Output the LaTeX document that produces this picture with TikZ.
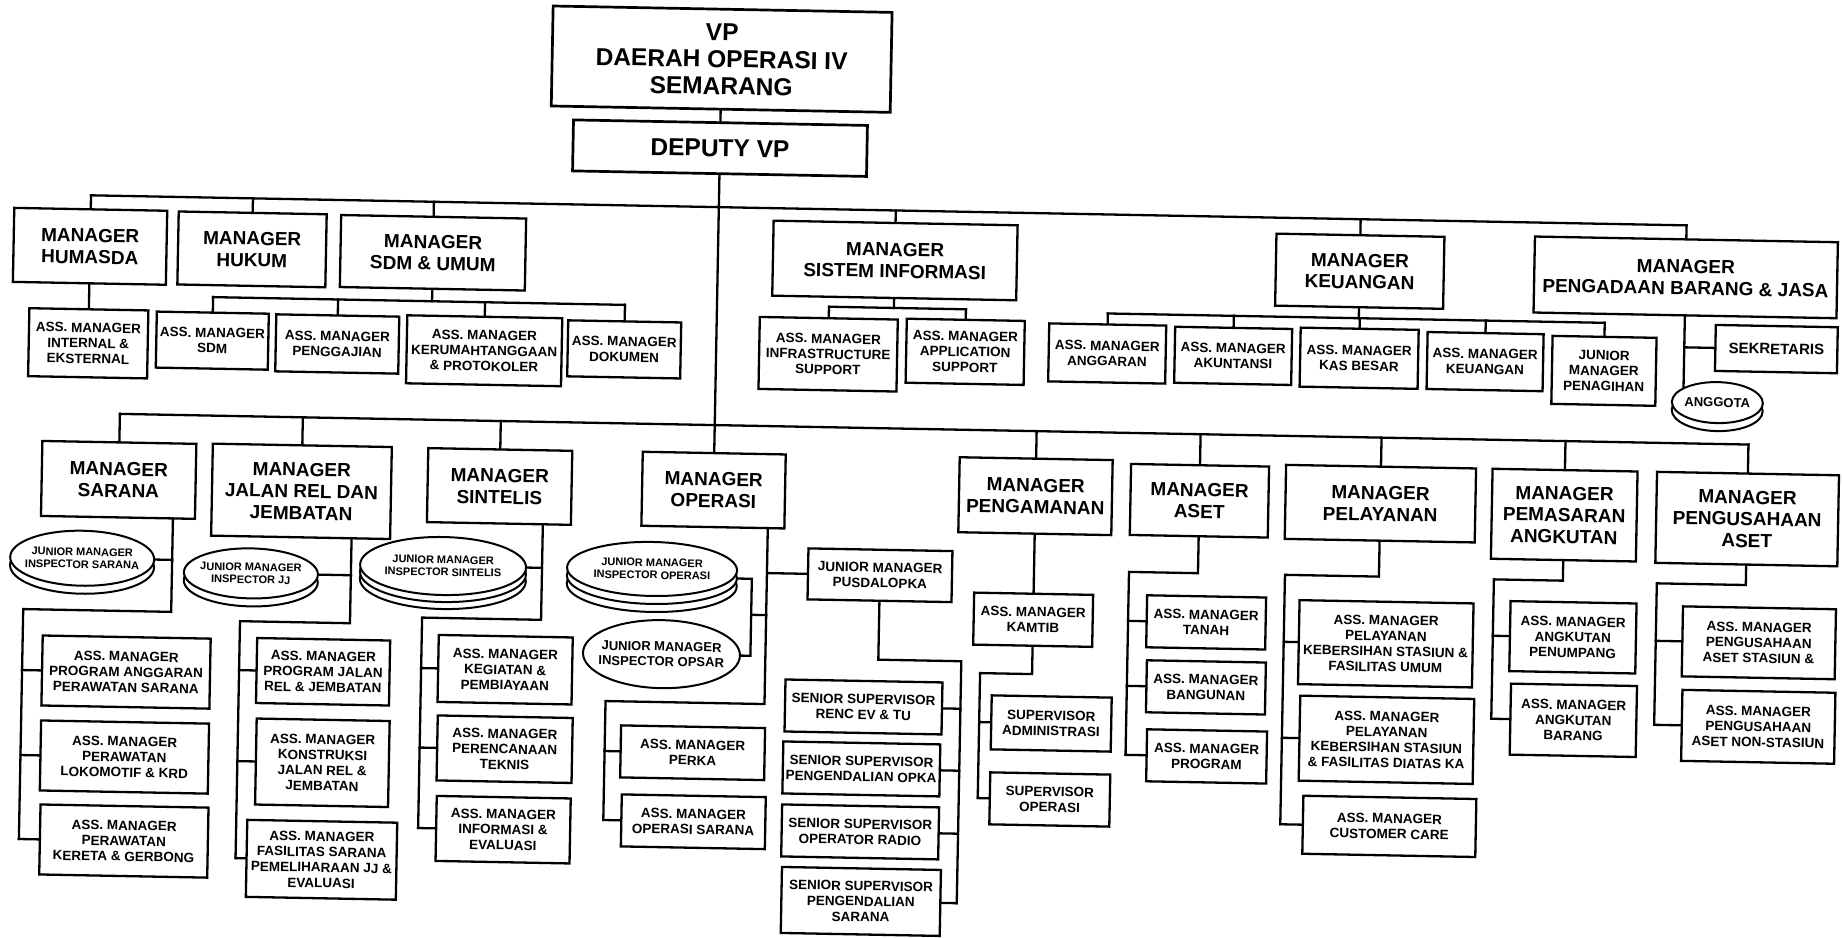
\documentclass[tikz,border=0pt]{standalone}
\usepackage{fontspec}
\setmainfont{Liberation Sans}
\usetikzlibrary{shapes.geometric}
\begin{document}
\begin{tikzpicture}[x=1pt,y=-1pt,
  wh/.style 2 args={minimum width=#1, minimum height=#2},
  abox/.style={draw, line width=2.3pt, fill=white, inner sep=0pt, align=center, font=\bfseries\fontsize{13.5}{15.5}\selectfont},
  mbox/.style={abox, font=\bfseries\fontsize{19}{21.7}\selectfont},
  topbox/.style={abox, line width=2.7pt, font=\bfseries\fontsize{24.5}{27}\selectfont},
  sekbox/.style={abox, font=\bfseries\fontsize{15}{17}\selectfont},
  jell/.style={ellipse, draw, line width=2pt, fill=white, inner sep=0pt},
  jtxt/.style={inner sep=0pt, align=center, font=\bfseries\fontsize{11}{12.5}\selectfont},
  conn/.style={line width=2.3pt, line cap=rect, line join=miter}
]
\fill[white] (0,0) rectangle (1843,937);
\useasboundingbox (0,0) rectangle (1843,937);
\begin{scope}[rotate around={-1.08:(921,468)}, transform shape]
% ---------- top
\node[topbox, wh={339}{100}] (vp) at (714,63) {VP\\DAERAH OPERASI IV\\SEMARANG};
\node[topbox, wh={294}{51}] (dep) at (714,152) {DEPUTY VP};
% ---------- upper managers
\node[mbox, wh={153}{74}] (hum) at (86,262) {MANAGER\\HUMASDA};
\node[abox, wh={119}{68}] (humie) at (86,359) {ASS. MANAGER\\INTERNAL \&\\EKSTERNAL};
\node[mbox, wh={148}{73}] (huk) at (248,262) {MANAGER\\HUKUM};
\node[mbox, wh={185}{72}] (sdm) at (429,262) {MANAGER\\SDM \& UMUM};
\node[abox, wh={112}{56}] (sdm1) at (210,354) {ASS. MANAGER\\SDM};
\node[abox, wh={123}{57}] (sdm2) at (335,355) {ASS. MANAGER\\PENGGAJIAN};
\node[abox, wh={155}{68}] (sdm3) at (482,359) {ASS. MANAGER\\KERUMAHTANGGAAN\\\& PROTOKOLER};
\node[abox, wh={113}{56}] (sdm4) at (622,355) {ASS. MANAGER\\DOKUMEN};
\node[mbox, wh={244}{75}] (si) at (891,261) {MANAGER\\SISTEM INFORMASI};
\node[abox, wh={138}{72}] (si1) at (826,356) {ASS. MANAGER\\INFRASTRUCTURE\\SUPPORT};
\node[abox, wh={118}{64}] (si2) at (963,351) {ASS. MANAGER\\APPLICATION\\SUPPORT};
\node[mbox, wh={168}{72}] (keu) at (1356,263) {MANAGER\\KEUANGAN};
\node[abox, wh={117}{58}] (keu1) at (1105,350) {ASS. MANAGER\\ANGGARAN};
\node[abox, wh={117}{56}] (keu2) at (1231,350) {ASS. MANAGER\\AKUNTANSI};
\node[abox, wh={118}{59}] (keu3) at (1357,350) {ASS. MANAGER\\KAS BESAR};
\node[abox, wh={116}{57}] (keu4) at (1483,351) {ASS. MANAGER\\KEUANGAN};
\node[abox, wh={104}{68}] (keu5) at (1602,358) {JUNIOR\\MANAGER\\PENAGIHAN};
\node[mbox, wh={303}{76}] (pbj) at (1682,263) {MANAGER\\PENGADAAN BARANG \& JASA};
\node[sekbox, wh={122}{46}] (sek) at (1774,333) {SEKRETARIS};
\node[jell, wh={91}{41}] (angb) at (1716,395.6) {};
\node[jell, wh={91}{41}] (ang) at (1716,387.6) {};
\node[jtxt, font=\bfseries\fontsize{13}{14}\selectfont] (angt) at (ang.center) {ANGGOTA};
% ---------- lower managers
\node[mbox, wh={154}{75}] (sar) at (119,495) {MANAGER\\SARANA};
\node[mbox, wh={179}{92}] (jr) at (302,503) {MANAGER\\JALAN REL DAN\\JEMBATAN};
\node[mbox, wh={144}{74}] (sin) at (500,494.4) {MANAGER\\SINTELIS};
\node[mbox, wh={143}{74}] (op) at (714,494) {MANAGER\\OPERASI};
\node[mbox, wh={153}{75}] (pam) at (1036,494) {MANAGER\\PENGAMANAN};
\node[mbox, wh={138}{71}] (aset) at (1200,495.5) {MANAGER\\ASET};
\node[mbox, wh={190}{74}] (pel) at (1381,495) {MANAGER\\PELAYANAN};
\node[mbox, wh={145}{90}] (pem) at (1565,503) {MANAGER\\PEMASARAN\\ANGKUTAN};
\node[mbox, wh={182}{91}] (pga) at (1748,503.5) {MANAGER\\PENGUSAHAAN\\ASET};
% ---------- sarana
\node[jell, wh={144}{55}] (sarJb) at (84,582) {};
\node[jell, wh={144}{55}] (sarJ) at (84,574) {};
\node[jtxt] (sarJt) at (sarJ.center) {JUNIOR MANAGER\\INSPECTOR SARANA};
\node[abox, wh={168}{70}] (sar1) at (130,687) {ASS. MANAGER\\PROGRAM ANGGARAN\\PERAWATAN SARANA};
\node[abox, wh={168}{70}] (sar2) at (130,772) {ASS. MANAGER\\PERAWATAN\\LOKOMOTIF \& KRD};
\node[abox, wh={168}{70}] (sar3) at (131,856) {ASS. MANAGER\\PERAWATAN\\KERETA \& GERBONG};
% ---------- jalan rel
\node[jell, wh={134}{50}] (jrJb) at (253,594) {};
\node[jell, wh={134}{50}] (jrJ) at (253,586) {};
\node[jtxt] (jrJt) at (jrJ.center) {JUNIOR MANAGER\\INSPECTOR JJ};
\node[abox, wh={133}{65}] (jr1) at (327,683) {ASS. MANAGER\\PROGRAM JALAN\\REL \& JEMBATAN};
\node[abox, wh={133}{86}] (jr2) at (328,774) {ASS. MANAGER\\KONSTRUKSI\\JALAN REL \&\\JEMBATAN};
\node[abox, wh={150}{77}] (jr3) at (329,871) {ASS. MANAGER\\FASILITAS SARANA\\PEMELIHARAAN JJ \&\\EVALUASI};
% ---------- sintelis
\node[jell, wh={166}{58}] (sinJc) at (445,589) {};
\node[jell, wh={166}{58}] (sinJb) at (445,582) {};
\node[jell, wh={166}{58}] (sinJ) at (445,575) {};
\node[jtxt] (sinJt) at (sinJ.center) {JUNIOR MANAGER\\INSPECTOR SINTELIS};
\node[abox, wh={134}{67}] (sin1) at (509,677.5) {ASS. MANAGER\\KEGIATAN \&\\PEMBIAYAAN};
\node[abox, wh={135}{65}] (sin2) at (510,757) {ASS. MANAGER\\PERENCANAAN\\TEKNIS};
\node[abox, wh={134}{65}] (sin3) at (510,837.5) {ASS. MANAGER\\INFORMASI \&\\EVALUASI};
% ---------- operasi
\node[jell, wh={170}{54}] (opJc) at (654,590) {};
\node[jell, wh={170}{54}] (opJb) at (654,582) {};
\node[jell, wh={170}{54}] (opJ) at (654,574) {};
\node[jtxt] (opJt) at (opJ.center) {JUNIOR MANAGER\\INSPECTOR OPERASI};
\node[jell, wh={157}{68}] (opsar) at (665,659) {};
\node[jtxt, font=\bfseries\fontsize{13}{15}\selectfont] (opsart) at (opsar.center) {JUNIOR MANAGER\\INSPECTOR OPSAR};
\node[abox, wh={144}{51}] (pus) at (882,576) {JUNIOR MANAGER\\PUSDALOPKA};
\node[abox, wh={157}{52}] (ss1) at (868,708) {SENIOR SUPERVISOR\\RENC EV \& TU};
\node[abox, wh={157}{52}] (ss2) at (867,770) {SENIOR SUPERVISOR\\PENGENDALIAN OPKA};
\node[abox, wh={157}{52}] (ss3) at (867,833) {SENIOR SUPERVISOR\\OPERATOR RADIO};
\node[abox, wh={159}{66}] (ss4) at (869,902.5) {SENIOR SUPERVISOR\\PENGENDALIAN\\SARANA};
\node[abox, wh={144}{52}] (perka) at (698,757) {ASS. MANAGER\\PERKA};
\node[abox, wh={144}{52}] (opsr) at (700,826) {ASS. MANAGER\\OPERASI SARANA};
% ---------- pengamanan
\node[abox, wh={119}{52}] (kam) at (1036,617.6) {ASS. MANAGER\\KAMTIB};
\node[abox, wh={120}{54}] (adm) at (1056,721) {SUPERVISOR\\ADMINISTRASI};
\node[abox, wh={120}{52}] (ops) at (1056,797) {SUPERVISOR\\OPERASI};
% ---------- aset
\node[abox, wh={119}{52}] (tanah) at (1209,617) {ASS. MANAGER\\TANAH};
\node[abox, wh={119}{52}] (bang) at (1210,682) {ASS. MANAGER\\BANGUNAN};
\node[abox, wh={120}{52}] (prog) at (1212,751) {ASS. MANAGER\\PROGRAM};
% ---------- pelayanan
\node[abox, wh={174}{84}] (pel1) at (1389,635) {ASS. MANAGER\\PELAYANAN\\KEBERSIHAN STASIUN \&\\FASILITAS UMUM};
\node[abox, wh={174}{85}] (pel2) at (1391.5,731) {ASS. MANAGER\\PELAYANAN\\KEBERSIHAN STASIUN\\\& FASILITAS DIATAS KA};
\node[abox, wh={173}{58}] (pel3) at (1396,817.5) {ASS. MANAGER\\CUSTOMER CARE};
% ---------- pemasaran
\node[abox, wh={126}{70}] (pem1) at (1576,625) {ASS. MANAGER\\ANGKUTAN\\PENUMPANG};
\node[abox, wh={126}{71}] (pem2) at (1578,708) {ASS. MANAGER\\ANGKUTAN\\BARANG};
% ---------- pengusahaan
\node[abox, wh={153}{70}] (pga1) at (1762,627) {ASS. MANAGER\\PENGUSAHAAN\\ASET STASIUN \&};
\node[abox, wh={153}{71}] (pga2) at (1763,711) {ASS. MANAGER\\PENGUSAHAAN\\ASET NON-STASIUN};

% ================= connectors
\draw[conn] (vp.south) -- (dep.north);
\draw[conn] (dep.south) -- (op.north);
% upper bus
\coordinate (ubA) at (86,211);
\coordinate (ubB) at (248,211);
\coordinate (ubC) at (429,211);
\coordinate (ubD) at (891,211);
\coordinate (ubE) at (1356,211);
\coordinate (ubF) at (1682,211);
\draw[conn] (ubA) -- (ubF);
\foreach \c/\n in {ubA/hum, ubB/huk, ubC/sdm, ubD/si, ubE/keu, ubF/pbj}
  \draw[conn] (\c) -- (\n.north);
\draw[conn] (hum.south) -- (humie.north);
% sdm
\coordinate (sdmM) at (429,310.5);
\coordinate (sdmA) at (210,310.5);
\coordinate (sdmB) at (335,310.5);
\coordinate (sdmC) at (482,310.5);
\coordinate (sdmD) at (622,310.5);
\draw[conn] (sdm.south) -- (sdmM);
\draw[conn] (sdmA) -- (sdmD);
\foreach \c/\n in {sdmA/sdm1, sdmB/sdm2, sdmC/sdm3, sdmD/sdm4}
  \draw[conn] (\c) -- (\n.north);
% sistem informasi
\coordinate (siM) at (891,308.5);
\coordinate (siA) at (826,308.5);
\coordinate (siB) at (963,308.5);
\draw[conn] (si.south) -- (siM);
\draw[conn] (siA) -- (siB);
\draw[conn] (siA) -- (si1.north);
\draw[conn] (siB) -- (si2.north);
% keuangan
\coordinate (keuM) at (1356,310);
\coordinate (keuA) at (1105,310);
\coordinate (keuB) at (1231,310);
\coordinate (keuC) at (1357,310);
\coordinate (keuD) at (1483,310);
\coordinate (keuE) at (1602,310);
\draw[conn] (keu.south) -- (keuM);
\draw[conn] (keuA) -- (keuE);
\foreach \c/\n in {keuA/keu1, keuB/keu2, keuC/keu3, keuD/keu4, keuE/keu5}
  \draw[conn] (\c) -- (\n.north);
% pengadaan
\coordinate (pbjS) at (1682,333);
\coordinate (pbjE) at (1682,373);
\draw[conn] (pbj.south) -- (pbjE);
\draw[conn] (pbjS) -- (sek.west);
% lower bus
\coordinate (lbA) at (119,429);
\coordinate (lbB) at (302,429);
\coordinate (lbC) at (500,429);
\coordinate (lbE) at (1036,429);
\coordinate (lbF) at (1200,429);
\coordinate (lbG) at (1381,429);
\coordinate (lbH) at (1565,429);
\coordinate (lbI) at (1748,429);
\draw[conn] (lbA) -- (lbI);
\foreach \c/\n in {lbA/sar, lbB/jr, lbC/sin, lbE/pam, lbF/aset, lbG/pel, lbH/pem, lbI/pga}
  \draw[conn] (\c) -- (\n.north);
% sarana
\coordinate (sarT) at (174,532.5);
\coordinate (sarB) at (174,626);
\coordinate (sarL) at (26,626);
\coordinate (sarE) at (174,574);
\coordinate (sarL1) at (26,687);
\coordinate (sarL2) at (26,772);
\coordinate (sarL3) at (26,856);
\draw[conn] (sarT) -- (sarB) -- (sarL) -- (sarL3);
\draw[conn] (sarJ.east) -- (sarE);
\draw[conn] (sarL1) -- (sar1.west);
\draw[conn] (sarL2) -- (sar2.west);
\draw[conn] (sarL3) -- (sar3.west);
% jalan rel
\coordinate (jrT) at (353,549);
\coordinate (jrB) at (353,634);
\coordinate (jrL) at (243,634);
\coordinate (jrE) at (353,586);
\coordinate (jrL1) at (243,683);
\coordinate (jrL2) at (243,774);
\coordinate (jrL3) at (243,871);
\draw[conn] (jrT) -- (jrB) -- (jrL) -- (jrL3);
\draw[conn] (jrJ.east) -- (jrE);
\draw[conn] (jrL1) -- (jr1.west);
\draw[conn] (jrL2) -- (jr2.west);
\draw[conn] (jrL3) -- (jr3.west);
% sintelis
\coordinate (sinT) at (544,531.4);
\coordinate (sinB) at (544,627);
\coordinate (sinL) at (425,627);
\coordinate (sinE) at (544,575);
\coordinate (sinL1) at (425,677.5);
\coordinate (sinL2) at (425,757);
\coordinate (sinL3) at (425,837.5);
\draw[conn] (sinT) -- (sinB) -- (sinL) -- (sinL3);
\draw[conn] (sinJ.east) -- (sinE);
\draw[conn] (sinL1) -- (sin1.west);
\draw[conn] (sinL2) -- (sin2.west);
\draw[conn] (sinL3) -- (sin3.west);
% operasi
\coordinate (opT) at (769,531);
\coordinate (opB) at (769,707);
\coordinate (opL) at (610,707);
\coordinate (opP) at (769,576);
\coordinate (opL1) at (610,757);
\coordinate (opL2) at (610,826);
\coordinate (brA) at (754,582);
\coordinate (brB) at (754,659);
\coordinate (brM) at (754,618);
\coordinate (opM) at (769,618);
\draw[conn] (opT) -- (opB) -- (opL) -- (opL2);
\draw[conn] (opL1) -- (perka.west);
\draw[conn] (opL2) -- (opsr.west);
\draw[conn] (opP) -- (pus.west);
\draw[conn] (opJb.east) -- (brA) -- (brB) -- (opsar.east);
\draw[conn] (brM) -- (opM);
\coordinate (pusB) at (882,660.5);
\coordinate (pusR) at (965,660.5);
\coordinate (pusR1) at (965,708);
\coordinate (pusR2) at (965,770);
\coordinate (pusR3) at (965,833);
\coordinate (pusR4) at (965,902.5);
\draw[conn] (pus.south) -- (pusB) -- (pusR) -- (pusR4);
\draw[conn] (pusR1) -- (ss1.east);
\draw[conn] (pusR2) -- (ss2.east);
\draw[conn] (pusR3) -- (ss3.east);
\draw[conn] (pusR4) -- (ss4.east);
% pengamanan
\draw[conn] (pam.south) -- (kam.north);
\coordinate (kamB) at (1036,672);
\coordinate (kamL) at (984,672);
\coordinate (kamL1) at (984,721);
\coordinate (kamL2) at (984,797);
\draw[conn] (kam.south) -- (kamB) -- (kamL) -- (kamL2);
\draw[conn] (kamL1) -- (adm.west);
\draw[conn] (kamL2) -- (ops.west);
% aset
\coordinate (asB) at (1200,568);
\coordinate (asL) at (1131,568);
\coordinate (asL1) at (1131,617);
\coordinate (asL2) at (1131,682);
\coordinate (asL3) at (1131,751);
\draw[conn] (aset.south) -- (asB) -- (asL) -- (asL3);
\draw[conn] (asL1) -- (tanah.west);
\draw[conn] (asL2) -- (bang.west);
\draw[conn] (asL3) -- (prog.west);
% pelayanan
\coordinate (plB) at (1381,568);
\coordinate (plL) at (1287,568);
\coordinate (plL1) at (1287,635);
\coordinate (plL2) at (1287,731);
\coordinate (plL3) at (1287,817.5);
\draw[conn] (pel.south) -- (plB) -- (plL) -- (plL3);
\draw[conn] (plL1) -- (pel1.west);
\draw[conn] (plL2) -- (pel2.west);
\draw[conn] (plL3) -- (pel3.west);
% pemasaran
\coordinate (pmB) at (1565,568.6);
\coordinate (pmL) at (1496,568.6);
\coordinate (pmL1) at (1496,625);
\coordinate (pmL2) at (1496,708);
\draw[conn] (pem.south) -- (pmB) -- (pmL) -- (pmL2);
\draw[conn] (pmL1) -- (pem1.west);
\draw[conn] (pmL2) -- (pem2.west);
% pengusahaan
\coordinate (pgB) at (1748,569.5);
\coordinate (pgL) at (1659,569.5);
\coordinate (pgL1) at (1659,627);
\coordinate (pgL2) at (1659,711);
\draw[conn] (pga.south) -- (pgB) -- (pgL) -- (pgL2);
\draw[conn] (pgL1) -- (pga1.west);
\draw[conn] (pgL2) -- (pga2.west);
\end{scope}
\end{tikzpicture}
\end{document}
